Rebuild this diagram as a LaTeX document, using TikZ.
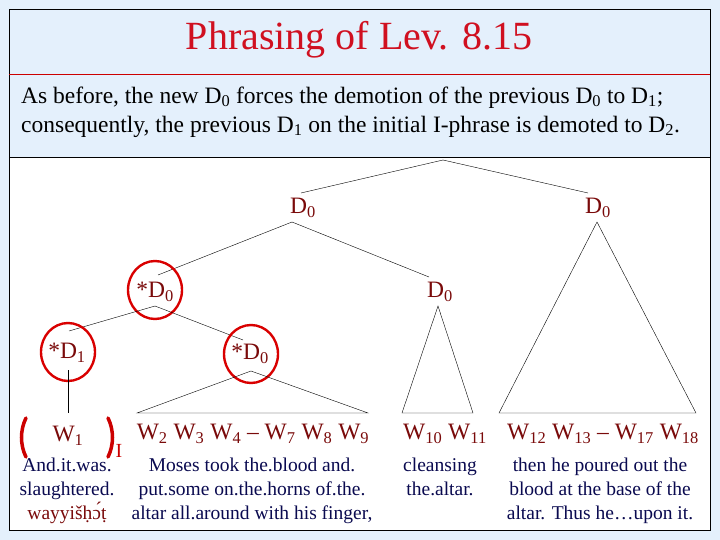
\documentclass[tikz,border=0pt]{standalone}
\usepackage{fontspec}
\usetikzlibrary{shapes.geometric}
\setmainfont{Liberation Serif}
\newcommand{\sbs}[1]{\textsubscript{#1}}
\definecolor{bgblue}{HTML}{E4F0FC}
\definecolor{dred}{HTML}{7A0A0A}
\definecolor{navy}{HTML}{0A0A50}
\definecolor{tred}{HTML}{D01020}
\begin{document}
\begin{tikzpicture}[x=1pt,y=-1pt,
 lab/.style={text=dred,font=\fontsize{23.5}{25}\selectfont,inner sep=0pt},
 eng/.style={text=navy,font=\fontsize{19.5}{24}\selectfont,align=center,inner sep=0pt,anchor=north},
 ring/.style={draw=red!85!black,line width=2.4pt,ellipse,minimum width=54pt,minimum height=58pt}]
\useasboundingbox (0,0) rectangle (720,540);
\fill[bgblue] (0,0) rectangle (720,540);
\fill[white] (9,157) rectangle (710,530);
\draw[black] (9,9) rectangle (710,530);
\draw[red!80!black] (9,74) -- (710,74);
\draw[black] (9,157) -- (710,157);
\node[text=tred,font=\fontsize{40}{40}\selectfont] (title) at (359,40) {Phrasing of Lev. 8.15};
\node[anchor=west,align=left,font=\fontsize{23.5}{29}\selectfont,inner sep=0pt] (desc) at (21,112)
 {As before, the new D\sbs{0} forces the demotion of the previous D\sbs{0} to D\sbs{1};\\consequently, the previous D\sbs{1} on the initial I-phrase is demoted to D\sbs{2}.};
% tree
\coordinate (apex) at (443,160);
\coordinate (aL) at (301,193);
\coordinate (aR) at (588,193);
\draw (aL) -- (apex) -- (aR);
\node[lab] (dL) at (303,208) {D\sbs{0}};
\node[lab] (dR) at (598,208) {D\sbs{0}};
\coordinate (dLb) at (292,222);
\coordinate (s1) at (158,275);
\coordinate (s2) at (429,277);
\draw (s1) -- (dLb) -- (s2);
\node[lab] (sd0) at (155,292) {*D\sbs{0}};
\node[ring] (c1) at (155,290) {};
\node[lab] (d0m) at (440,292) {D\sbs{0}};
\coordinate (mb) at (438,306);
\coordinate (m1) at (402,413);
\coordinate (m2) at (473,413);
\draw (m1) -- (mb) -- (m2) -- cycle;
\coordinate (rb) at (597,222);
\coordinate (r1) at (499,413);
\coordinate (r2) at (696,413);
\draw (r1) -- (rb) -- (r2) -- cycle;
\coordinate (cb) at (155,306);
\coordinate (t1) at (69,331);
\coordinate (t2) at (243,340);
\draw (t1) -- (cb) -- (t2);
\node[lab] (sd1) at (67,353) {*D\sbs{1}};
\node[ring] (c2) at (68,352) {};
\node[lab] (sd0b) at (250,354) {*D\sbs{0}};
\node[ring] (c3) at (251,354) {};
\coordinate (v1) at (68,370);
\coordinate (v2) at (68,413);
\draw (v1) -- (v2);
\coordinate (bb) at (251,371);
\coordinate (b1) at (137,413);
\coordinate (b2) at (368,413);
\draw (b1) -- (bb) -- (b2) -- cycle;
% W labels
\draw[red!80!black,line width=3.5pt,line cap=round] (26,418) .. controls (20,430) and (20,445) .. (26,457);
\draw[red!80!black,line width=3.5pt,line cap=round] (108,418) .. controls (114,430) and (114,445) .. (108,457);
\node[text=red!80!black,font=\fontsize{20}{20}\selectfont,inner sep=0pt] (iI) at (119,451) {I};
\node[lab] (w1) at (68,436) {W\sbs{1}};
\node[lab] (w2) at (253,434) {W\sbs{2} W\sbs{3} W\sbs{4} – W\sbs{7} W\sbs{8} W\sbs{9}};
\node[lab] (w10) at (445,434) {W\sbs{10} W\sbs{11}};
\node[lab] (w12) at (603,434) {W\sbs{12} W\sbs{13} – W\sbs{17} W\sbs{18}};
% glosses
\node[eng] (g1) at (67,458) {And.it.was.\\slaughtered.\\\textcolor{dred}{wayyišḥɔ́ṭ}};
\node[eng] (g2) at (252,458) {Moses took the.blood and.\\put.some on.the.horns of.the.\\altar all.around with his finger,};
\node[eng] (g3) at (440,458) {cleansing\\the.altar.};
\node[eng] (g4) at (600,458) {then he poured out the\\blood at the base of the\\altar. Thus he…upon it.};
\end{tikzpicture}
\end{document}
